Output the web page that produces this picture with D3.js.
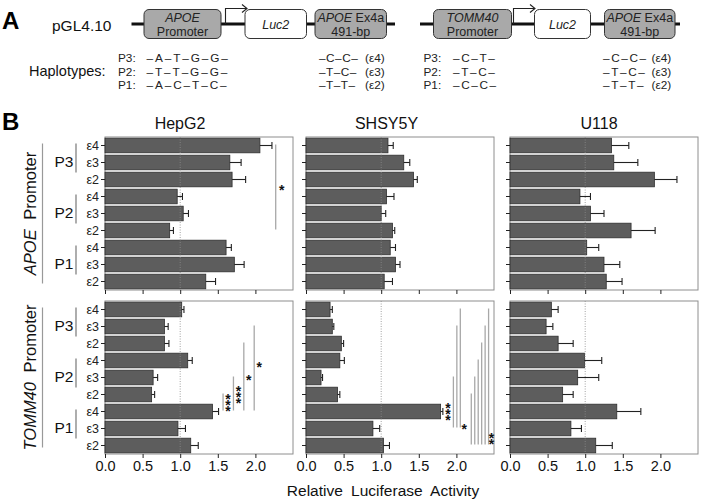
<!DOCTYPE html>
<html>
<head>
<meta charset="utf-8">
<script src="https://cdn.jsdelivr.net/npm/d3@7"></script>
<style>
  body { margin: 0; background: #fff; }
  svg { display: block; font-family: "Liberation Sans", Arial, sans-serif; }
  .stars { writing-mode: vertical-rl; text-orientation: upright; }
</style>
</head>
<body>
<svg id="chart" width="702" height="502"></svg>
<script>
// ---- data ----
var promoters = ["P3", "P2", "P1"];
var alleles = ["ε4", "ε3", "ε2"];
var cellLines = ["HepG2", "SHSY5Y", "U118"];
var xTicks = [0, 0.5, 1, 1.5, 2];

// APOE promoter constructs (rows: P3 e4, e3, e2, P2 ..., P1 ...)
var apoeHepG2     = [2.06, 1.66, 1.69, 0.96, 1.04, 0.86, 1.61, 1.72, 1.34];
var apoeHepG2Err  = [0.16, 0.15, 0.18, 0.07, 0.07, 0.05, 0.07, 0.13, 0.13];
var apoeSHSY5Y    = [1.09, 1.30, 1.43, 1.07, 1.00, 1.15, 1.12, 1.19, 1.04];
var apoeSHSY5YErr = [0.07, 0.08, 0.05, 0.10, 0.06, 0.03, 0.07, 0.06, 0.11];
var apoeU118      = [1.35, 1.38, 1.92, 0.93, 1.07, 1.61, 1.02, 1.25, 1.28];
var apoeU118Err   = [0.23, 0.32, 0.30, 0.14, 0.18, 0.32, 0.16, 0.21, 0.21];

// TOMM40 promoter constructs
var tommHepG2     = [1.02, 0.79, 0.79, 1.10, 0.64, 0.62, 1.43, 0.97, 1.14];
var tommHepG2Err  = [0.03, 0.05, 0.06, 0.06, 0.06, 0.04, 0.08, 0.10, 0.10];
var tommSHSY5Y    = [0.32, 0.35, 0.47, 0.45, 0.20, 0.42, 1.79, 0.89, 1.03];
var tommSHSY5YErr = [0.03, 0.02, 0.03, 0.06, 0.02, 0.03, 0.03, 0.09, 0.08];
var tommU118      = [0.55, 0.48, 0.64, 0.99, 0.90, 0.70, 1.42, 0.81, 1.14];
var tommU118Err   = [0.09, 0.09, 0.20, 0.23, 0.28, 0.14, 0.32, 0.14, 0.22];

// significance comparisons: [row a, row b, stars]
var sigApoeHepG2 = [[0, 5, "*"]];
var sigTommHepG2 = [[6, 5, "***"], [6, 4, "***"], [6, 2, "*"], [6, 1, "*"]];
var sigTommSHSY5Y = [[7, 4, "***"], [7, 1, ""], [7, 0, "*"],
                     [8, 5, ""], [8, 4, ""], [8, 3, ""], [8, 2, ""], [8, 1, ""], [8, 0, "**"]];

// panel A haplotype text
var hapLabels = ["P3:", "P2:", "P1:"];
var apoePromHap = ["–A–T–G–G–", "–T–T–G–G–", "–A–C–T–C–"];
var tommPromHap = ["–C–T–", "–T–C–", "–C–C–"];
var exonHap = ["–C–C–", "–T–C–", "–T–T–"];
var exonAlleles = ["(ε4)", "(ε3)", "(ε2)"];

// ---- layout ----
var svg = d3.select("#chart");
var panelX = [105, 306, 510];
var panelW = 188;
var blockTop = [137, 301];
var panelH = 153;
var rowKeys = [];
promoters.forEach(function (p) {
  alleles.forEach(function (a) { rowKeys.push(p + "|" + a) });
});

var blocks = [
  { name: "APOE", vals: [apoeHepG2, apoeSHSY5Y, apoeU118], errs: [apoeHepG2Err, apoeSHSY5YErr, apoeU118Err] },
  { name: "TOMM40", vals: [tommHepG2, tommSHSY5Y, tommU118], errs: [tommHepG2Err, tommSHSY5YErr, tommU118Err] }
];

// stacked asterisks: vertical writing mode, glyphs kept upright
function drawStars(g, x, yc, txt) {
  g.append("text")
    .attr("class", "stars")
    .attr("x", x)
    .attr("y", yc - 2)
    .attr("text-anchor", "middle")
    .attr("font-size", 14)
    .attr("font-weight", "bold")
    .attr("letter-spacing", -10)
    .attr("fill", "#111")
    .text(txt);
}

blocks.forEach(function (blk, b) {
  var top = blockTop[b];
  var y = d3.scaleBand().domain(rowKeys).range([top, top + panelH])
    .paddingInner(0.14).paddingOuter(0.07);

  cellLines.forEach(function (cell, c) {
    var x = d3.scaleLinear().domain([0, 2.5]).range([panelX[c], panelX[c] + panelW]);
    var g = svg.append("g");
    var vals = blk.vals[c], errs = blk.errs[c];

    g.append("rect")
      .attr("x", panelX[c]).attr("y", top)
      .attr("width", panelW).attr("height", panelH)
      .attr("fill", "#fff").attr("stroke", "#8e8e8e").attr("stroke-width", 1);

    g.selectAll("rect.bar")
      .data(rowKeys)
      .enter().append("rect")
      .attr("class", "bar")
      .attr("x", x(0))
      .attr("y", function (k) { return y(k) })
      .attr("width", function (k, i) { return x(vals[i]) - x(0) })
      .attr("height", y.bandwidth())
      .attr("fill", "#5d5d5d")
      .attr("stroke", "#2e2e2e")
      .attr("stroke-width", 0.8);

    // reference line at 1.0
    g.append("line")
      .attr("x1", x(1)).attr("x2", x(1))
      .attr("y1", top).attr("y2", top + panelH)
      .attr("stroke", "#8a8a8a").attr("stroke-width", 0.8)
      .attr("stroke-dasharray", "1,1.5");

    // error bars
    rowKeys.forEach(function (k, i) {
      var cy = y(k) + y.bandwidth() / 2;
      var x1 = x(vals[i]), x2 = x(vals[i] + errs[i]);
      g.append("line").attr("x1", x1).attr("x2", x2).attr("y1", cy).attr("y2", cy)
        .attr("stroke", "#222").attr("stroke-width", 1.1);
      g.append("line").attr("x1", x2).attr("x2", x2).attr("y1", cy - 3.5).attr("y2", cy + 3.5)
        .attr("stroke", "#222").attr("stroke-width", 1.1);
    });

    var xAxis = d3.axisBottom(x).tickValues(xTicks).tickSize(4).tickPadding(3)
      .tickFormat(b === 1 ? d3.format(".1f") : function () { return "" });
    var ax = g.append("g").attr("transform", "translate(0," + (top + panelH) + ")").call(xAxis);
    ax.select(".domain").remove();
    ax.attr("font-family", null).attr("font-size", 14.5);
    ax.selectAll("line").attr("stroke", "#222");
    ax.selectAll("text").attr("fill", "#111");

    var yAxis = d3.axisLeft(y).tickSize(4).tickPadding(2)
      .tickFormat(c === 0 ? function (k) { return k.split("|")[1] } : function () { return "" });
    var ay = g.append("g").attr("transform", "translate(" + panelX[c] + ",0)").call(yAxis);
    ay.select(".domain").remove();
    ay.attr("font-family", null).attr("font-size", 12.5);
    ay.selectAll("line").attr("stroke", "#222");
    ay.selectAll("text").attr("fill", "#222");

    // significance brackets
    var sig = null, sx0 = 0, step = 0;
    if (b === 0 && c === 0) { sig = sigApoeHepG2; sx0 = 2.27; step = 0; }
    if (b === 1 && c === 0) { sig = sigTommHepG2; sx0 = 1.57; step = 0.138; }
    if (b === 1 && c === 1) { sig = sigTommSHSY5Y; sx0 = 1.96; step = 0.046; }
    if (sig) {
      sig.forEach(function (s, i) {
        var v = sx0 + i * step;
        if (b === 1 && c === 1 && i >= 3) v += 0.1;
        var lx = x(v);
        var ya = y(rowKeys[s[0]]) + y.bandwidth() / 2;
        var yb = y(rowKeys[s[1]]) + y.bandwidth() / 2;
        var y1 = Math.min(ya, yb) - 1, y2 = Math.max(ya, yb) - 1;
        g.append("line").attr("x1", lx).attr("x2", lx).attr("y1", y1).attr("y2", y2)
          .attr("stroke", "#a8a8a8").attr("stroke-width", 1.3);
        if (!s[2]) return;
        if (c === 0) {
          var mid = (y1 + y2) / 2;
          if (b === 1 && i === 3) mid -= 4;
          drawStars(g, lx + (b === 0 ? 6 : 5), mid, s[2]);
        } else if (i === 0) {
          drawStars(g, lx - 5.5, y2 - 17, s[2]);
        } else if (i === 2) {
          drawStars(g, lx + 4, y2 - 2, s[2]);
        } else {
          drawStars(g, lx + 3, y2 - 7, s[2]);
        }
      });
    }

    if (b === 0) {
      var titleX = [180, 386.5, 599];
      svg.append("text")
        .attr("x", titleX[c]).attr("y", 129)
        .attr("text-anchor", "middle")
        .attr("font-size", 16).attr("fill", "#111")
        .text(cell);
    }
  });

  // promoter group brackets and labels
  promoters.forEach(function (p, pi) {
    var r0 = y(rowKeys[pi * 3]) + y.bandwidth() / 2;
    var r1 = y(rowKeys[pi * 3 + 1]) + y.bandwidth() / 2;
    var r2 = y(rowKeys[pi * 3 + 2]) + y.bandwidth() / 2;
    svg.append("line").attr("x1", 76).attr("x2", 76).attr("y1", r0 - 2).attr("y2", r2 - 7)
      .attr("stroke", "#777").attr("stroke-width", 1.2);
    svg.append("text").attr("x", 64).attr("y", r1 + 4)
      .attr("text-anchor", "middle").attr("font-size", 15.5).attr("fill", "#111").text(p);
  });
  var yTop = y(rowKeys[0]) + y.bandwidth() / 2 - 2;
  var yBot = y(rowKeys[8]) + y.bandwidth() / 2 + 2;
  svg.append("line").attr("x1", 42.5).attr("x2", 42.5).attr("y1", yTop).attr("y2", yBot)
    .attr("stroke", "#999").attr("stroke-width", 1.2);
  var lab = svg.append("text")
    .attr("transform", "translate(36," + ((yTop + yBot) / 2) + ") rotate(-90)")
    .attr("text-anchor", "middle").attr("font-size", 16.5).attr("fill", "#111");
  lab.append("tspan").attr("font-style", "italic").text(blk.name);
  lab.append("tspan").attr("dx", 5).text(" Promoter");
});

// axis title
svg.append("text")
  .attr("x", 383).attr("y", 496)
  .attr("text-anchor", "middle").attr("font-size", 15.5)
  .attr("word-spacing", 4).attr("fill", "#111")
  .text("Relative Luciferase Activity");

// panel letters
svg.append("text").attr("x", 2).attr("y", 29).attr("font-size", 24).attr("font-weight", "bold").text("A");
svg.append("text").attr("x", 2).attr("y", 130).attr("font-size", 24).attr("font-weight", "bold").text("B");

// ---- panel A: constructs ----
var ga = svg.append("g");
function thick(x1, x2) {
  ga.append("line").attr("x1", x1).attr("x2", x2).attr("y1", 24).attr("y2", 24)
    .attr("stroke", "#111").attr("stroke-width", 2.8);
}
function box(x1, x2, fill, l1, l2) {
  ga.append("rect").attr("x", x1).attr("y", 9.5).attr("width", x2 - x1).attr("height", 29)
    .attr("rx", 5).attr("fill", fill).attr("stroke", "#333").attr("stroke-width", 1);
  var cx = (x1 + x2) / 2;
  if (l2) {
    var t = ga.append("text").attr("x", cx).attr("y", 21.5).attr("text-anchor", "middle")
      .attr("font-size", 12.5).attr("fill", "#222");
    t.append("tspan").attr("font-style", "italic").text(l1[0]);
    if (l1[1]) t.append("tspan").text(l1[1]);
    ga.append("text").attr("x", cx).attr("y", 35.5).attr("text-anchor", "middle")
      .attr("font-size", 12.5).attr("fill", "#222").text(l2);
  } else {
    ga.append("text").attr("x", cx).attr("y", 28.5).attr("text-anchor", "middle")
      .attr("font-size", 12.5).attr("font-style", "italic").attr("fill", "#222").text(l1[0]);
  }
}
function arrow(x0, x1) {
  ga.append("path").attr("d", "M" + x0 + ",24 V8.5 H" + x1)
    .attr("fill", "none").attr("stroke", "#222").attr("stroke-width", 1.1);
  ga.append("path").attr("d", "M" + (x1 - 5) + ",4.5 L" + x1 + ",8.5 L" + (x1 - 5) + ",12.5")
    .attr("fill", "none").attr("stroke", "#222").attr("stroke-width", 1.1);
}

ga.append("text").attr("x", 52).attr("y", 30.5).attr("font-size", 15.5).attr("fill", "#111").text("pGL4.10");

thick(131.5, 395);
box(144, 221, "#a9a9a9", ["APOE"], "Promoter");
arrow(225.5, 247);
box(245, 306.5, "#fff", ["Luc2"]);
box(315, 386.5, "#a9a9a9", ["APOE", " Ex4a"], "491-bp");

thick(420, 680);
box(433.5, 511.5, "#a9a9a9", ["TOMM40"], "Promoter");
arrow(513.5, 535);
box(534.5, 590.5, "#fff", ["Luc2"]);
box(604.5, 675, "#a9a9a9", ["APOE", " Ex4a"], "491-bp");

ga.append("text").attr("x", 29).attr("y", 75.5).attr("font-size", 14.5).attr("fill", "#111").text("Haplotypes:");
var hapY = [62, 75.7, 89.4];
hapLabels.forEach(function (lb, i) {
  function t(x, s, ls) {
    ga.append("text").attr("x", x).attr("y", hapY[i]).attr("font-size", 11.8)
      .attr("letter-spacing", ls || 0).attr("fill", "#222").text(s);
  }
  t(118, lb);
  t(146.5, apoePromHap[i], 1.9);
  t(319, exonHap[i], 0.5);
  t(365, exonAlleles[i]);
  t(423.5, lb);
  t(453, tommPromHap[i], 1.6);
  t(603, exonHap[i], 1.6);
  t(651.5, exonAlleles[i]);
});
</script>
</body>
</html>
